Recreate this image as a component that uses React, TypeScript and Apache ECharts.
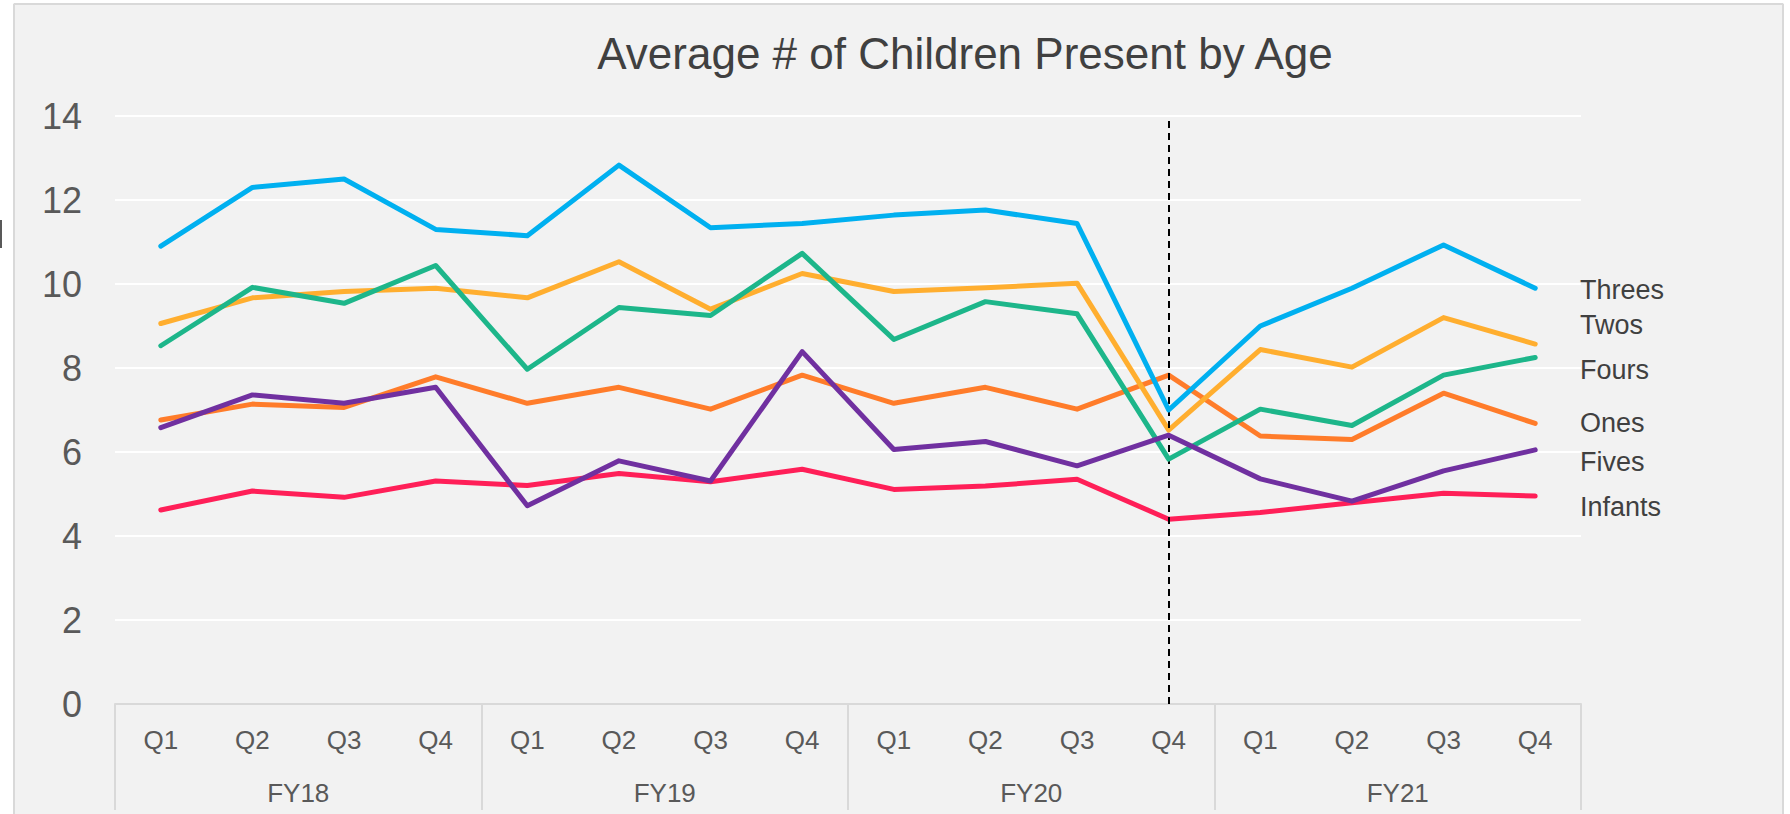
import React, { useEffect, useRef } from "react";
import * as echarts from "echarts";

const quarterLabels = ["Q1", "Q2", "Q3", "Q4", "Q1", "Q2", "Q3", "Q4", "Q1", "Q2", "Q3", "Q4", "Q1", "Q2", "Q3", "Q4"];
const fyLabels = ["FY18", "FY19", "FY20", "FY21"];
const yTicks = { min: 0, max: 14, interval: 2 };

const threes = [10.9, 12.3, 12.5, 11.3, 11.15, 12.83, 11.34, 11.44, 11.64, 11.76, 11.44, 7.0, 9.0, 9.9, 10.93, 9.9];
const twos = [9.06, 9.67, 9.82, 9.9, 9.67, 10.53, 9.4, 10.25, 9.82, 9.91, 10.02, 6.52, 8.44, 8.02, 9.2, 8.57];
const fours = [8.53, 9.92, 9.54, 10.44, 7.97, 9.44, 9.25, 10.73, 8.68, 9.58, 9.29, 5.83, 7.02, 6.63, 7.83, 8.25];
const ones = [6.76, 7.14, 7.06, 7.79, 7.16, 7.54, 7.02, 7.83, 7.16, 7.54, 7.02, 7.83, 6.38, 6.3, 7.4, 6.68];
const fives = [6.58, 7.36, 7.16, 7.54, 4.72, 5.79, 5.31, 8.39, 6.06, 6.25, 5.67, 6.4, 5.36, 4.83, 5.55, 6.05];
const infants = [4.62, 5.07, 4.92, 5.31, 5.2, 5.49, 5.29, 5.59, 5.11, 5.19, 5.35, 4.4, 4.56, 4.79, 5.02, 4.95];

const seriesNames = ["Infants", "Ones", "Twos", "Threes", "Fours", "Fives"];
const seriesValues = [infants, ones, twos, threes, fours, fives];
const seriesColors = ["#ff1f58", "#ff7c2a", "#ffae2f", "#00b0f0", "#1db68a", "#7030a0"];
const dividerIndex = 11;

const FONT = "'Liberation Sans', Arial, sans-serif";

export default function App() {
  const ref = useRef<HTMLDivElement>(null);

  useEffect(() => {
    if (!ref.current) return;
    const chart = echarts.init(ref.current, null, { renderer: "svg" });

    const endLabels = [
      { text: "Threes", y: 290 },
      { text: "Twos", y: 325 },
      { text: "Fours", y: 370 },
      { text: "Ones", y: 423 },
      { text: "Fives", y: 462 },
      { text: "Infants", y: 507 },
    ];

    const option: any = {
      animation: false,
      backgroundColor: "#f2f2f2",
      textStyle: { fontFamily: FONT },
      title: {
        text: "Average # of Children Present by Age",
        left: 965,
        top: 30,
        textAlign: "center",
        padding: 0,
        textStyle: { fontFamily: FONT, fontSize: 44, fontWeight: "normal", color: "#404040", lineHeight: 46 },
      },
      grid: { left: 115, right: 209, top: 116, bottom: 110, containLabel: false },
      xAxis: [
        {
          type: "category",
          data: quarterLabels,
          position: "bottom",
          boundaryGap: true,
          axisLine: { show: true, lineStyle: { color: "#d9d9d9", width: 2 } },
          axisTick: { show: false },
          axisLabel: { color: "#595959", fontSize: 26, margin: 23, fontFamily: FONT, interval: 0 },
          splitLine: { show: false },
        },
        {
          type: "category",
          data: fyLabels,
          position: "bottom",
          boundaryGap: true,
          axisLine: { show: false },
          axisTick: { show: true, length: 106, lineStyle: { color: "#d9d9d9", width: 2 } },
          axisLabel: { color: "#595959", fontSize: 26, margin: 76, fontFamily: FONT, interval: 0 },
          splitLine: { show: false },
        },
      ],
      yAxis: {
        type: "value",
        min: yTicks.min,
        max: yTicks.max,
        interval: yTicks.interval,
        axisLine: { show: false },
        axisTick: { show: false },
        axisLabel: { color: "#595959", fontSize: 36, margin: 33, fontFamily: FONT },
        splitLine: { show: true, lineStyle: { color: "#ffffff", width: 2 } },
      },
      series: seriesNames.map((name, i) => ({
        name,
        type: "line",
        xAxisIndex: 0,
        data: seriesValues[i],
        symbol: "none",
        lineStyle: { color: seriesColors[i], width: 5, cap: "round", join: "round" },
        itemStyle: { color: seriesColors[i] },
        z: 2 + i,
        markLine:
          i === 0
            ? {
                silent: true,
                symbol: ["none", "none"],
                label: { show: false },
                lineStyle: { color: "#000000", type: [7, 5], width: 2 },
                data: [{ xAxis: dividerIndex }],
              }
            : undefined,
      })),
      graphic: [
        { type: "rect", shape: { x: 0, y: 0, width: 13, height: 814 }, style: { fill: "#ffffff" }, silent: true },
        { type: "rect", shape: { x: 0, y: 0, width: 1790, height: 3 }, style: { fill: "#ffffff" }, silent: true },
        { type: "rect", shape: { x: 1784, y: 0, width: 6, height: 814 }, style: { fill: "#ffffff" }, silent: true },
        { type: "line", shape: { x1: 14, y1: 4, x2: 14, y2: 814 }, style: { stroke: "#d9d9d9", lineWidth: 2 }, silent: true },
        { type: "line", shape: { x1: 14, y1: 4, x2: 1783, y2: 4 }, style: { stroke: "#d9d9d9", lineWidth: 2 }, silent: true },
        { type: "line", shape: { x1: 1783, y1: 4, x2: 1783, y2: 814 }, style: { stroke: "#d9d9d9", lineWidth: 2 }, silent: true },
        { type: "rect", shape: { x: 0, y: 220, width: 2, height: 28 }, style: { fill: "#595959" }, silent: true },
        ...endLabels.map((l) => ({
          type: "text",
          x: 1580,
          y: l.y,
          silent: true,
          style: {
            text: l.text,
            fill: "#404040",
            font: `27px ${FONT}`,
            textAlign: "left",
            textVerticalAlign: "middle",
          },
        })),
      ],
    };

    chart.setOption(option);
    return () => chart.dispose();
  }, []);

  return (
    <div
      ref={ref}
      style={{ position: "absolute", left: 0, top: 0, width: 1790, height: 814 }}
    />
  );
}
